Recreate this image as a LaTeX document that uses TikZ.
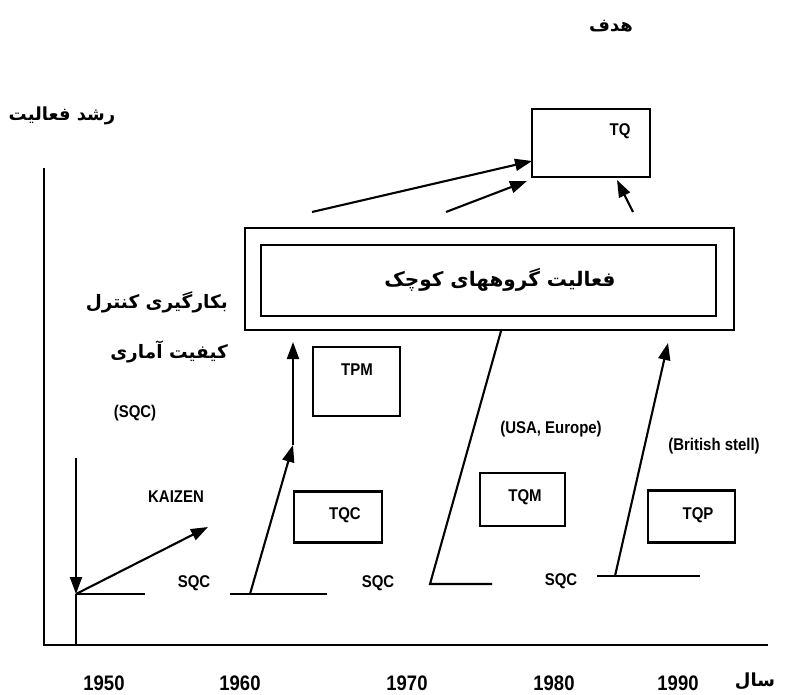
\documentclass[tikz,border=0pt]{standalone}
\usepackage{fontspec}
\usetikzlibrary{arrows.meta}
\TeXXeTstate=1
\newfontfamily\lab{Liberation Sans}[FakeStretch=0.88]
\newfontfamily\fa[Script=Arabic]{DejaVu Sans}
\begin{document}
\begin{tikzpicture}[x=1pt,y=-1pt,
  ln/.style={line width=2.1pt},
  axis/.style={line width=2.8pt},
  arr/.style={ln,-{Triangle[length=17pt,width=12pt]}},
  box/.style={draw,line width=2.3pt,inner sep=0pt},
  lbl/.style={font=\lab\bfseries\fontsize{17}{19}\selectfont,inner sep=0pt},
  yr/.style={font=\lab\bfseries\fontsize{21}{23}\selectfont,inner sep=0pt},
  fatxt/.style={font=\fa\bfseries\fontsize{18.5}{21}\selectfont,inner sep=0pt}]
\useasboundingbox (0,0) rectangle (785,695);

% axes
\coordinate (ytop) at (44,168);
\coordinate (orig) at (44,645);
\coordinate (xend) at (768,645);
\draw[axis] (ytop) -- (orig) -- (xend);

% top goal box
\node[box,minimum width=118pt,minimum height=68pt] (tq) at (591,143) {};
\node[lbl] (tqt) at (620,131) {TQ};

% small-group activity frame
\node[box,minimum width=489pt,minimum height=102pt] (outer) at (489.5,279) {};
\node[box,minimum width=455pt,minimum height=71pt] (inner) at (488.5,280.5) {};
\node[fatxt,font=\fa\bfseries\fontsize{20}{22}\selectfont] (grp) at (500,280) {\beginR فعالیت گروههای کوچک\endR};

% arrows up to TQ
\coordinate (s1) at (312,212);
\coordinate (t1) at (532,161);
\coordinate (s2) at (446,212);
\coordinate (t2) at (527,181);
\coordinate (s3) at (633,212);
\coordinate (t3) at (617,180);
\draw[arr] (s1) -- (t1);
\draw[arr] (s2) -- (t2);
\draw[arr] (s3) -- (t3);

% method boxes
\node[box,minimum width=87pt,minimum height=69pt] (tpm) at (356.5,381.5) {};
\node[lbl] (tpmt) at (357,370) {TPM};
\node[box,minimum width=88pt,minimum height=51pt] (tqc) at (338,517) {};
\node[lbl] (tqct) at (345,515) {TQC};
\node[box,minimum width=85pt,minimum height=53pt] (tqm) at (522.5,499.5) {};
\node[lbl] (tqmt) at (525,497) {TQM};
\node[box,minimum width=87pt,minimum height=52pt] (tqp) at (691.5,516.5) {};
\node[lbl] (tqpt) at (698,515) {TQP};

% 1950: statistical quality control and KAIZEN
\coordinate (v0) at (76,458);
\coordinate (v1) at (76,594);
\coordinate (h1e) at (145,594);
\coordinate (kz) at (208,527);
\draw[arr] (v0) -- (v1);
\draw[ln] (v1) -- (v1 |- orig);
\draw[ln] (v1) -- (h1e);
\draw[arr] (v1) -- (kz);

% 1960
\coordinate (h2s) at (230,594);
\coordinate (h2e) at (327,594);
\coordinate (a2s) at (250,594);
\coordinate (a2t) at (293,445);
\coordinate (a2u) at (293,342);
\draw[ln] (h2s) -- (h2e);
\draw[arr] (a2s) -- (a2t);
\draw[arr] (a2t) -- (a2u);

% 1970
\coordinate (h3s) at (430,584);
\coordinate (h3e) at (492,584);
\coordinate (a3t) at (501,331);
\draw[ln] (h3e) -- (h3s) -- (a3t);

% 1980
\coordinate (h4s) at (597,576);
\coordinate (h4e) at (700,576);
\coordinate (a4s) at (615,576);
\coordinate (a4t) at (668,343);
\draw[ln] (h4s) -- (h4e);
\draw[arr] (a4s) -- (a4t);

% labels
\node[lbl] (kaizen) at (176,497) {KAIZEN};
\node[lbl] (sqc1) at (194,583) {SQC};
\node[lbl] (sqc2) at (378,583) {SQC};
\node[lbl] (sqc3) at (561,581) {SQC};
\node[lbl] (usa) at (551,429) {(USA, Europe)};
\node[lbl] (brit) at (714,446) {(British stell)};
\node[lbl] (sqcp) at (135,413) {(SQC)};

\node[fatxt,anchor=east] (apl1) at (228,302) {\beginR بکارگیری کنترل\endR};
\node[fatxt,anchor=east] (apl2) at (228,352) {\beginR کیفیت آماری\endR};
\node[fatxt,font=\fa\bfseries\fontsize{18}{20}\selectfont] (ylab) at (62,116) {\beginR رشد فعالیت\endR};
\node[fatxt,font=\fa\bfseries\fontsize{18}{20}\selectfont] (goal) at (611,26) {\beginR هدف\endR};

% years
\node[yr] (y50) at (104,683) {1950};
\node[yr] (y60) at (240,683) {1960};
\node[yr] (y70) at (407,683) {1970};
\node[yr] (y80) at (554,683) {1980};
\node[yr] (y90) at (678,683) {1990};
\node[fatxt,font=\fa\bfseries\fontsize{18}{20}\selectfont] (sal) at (755,681) {\beginR سال\endR};
\end{tikzpicture}
\end{document}
